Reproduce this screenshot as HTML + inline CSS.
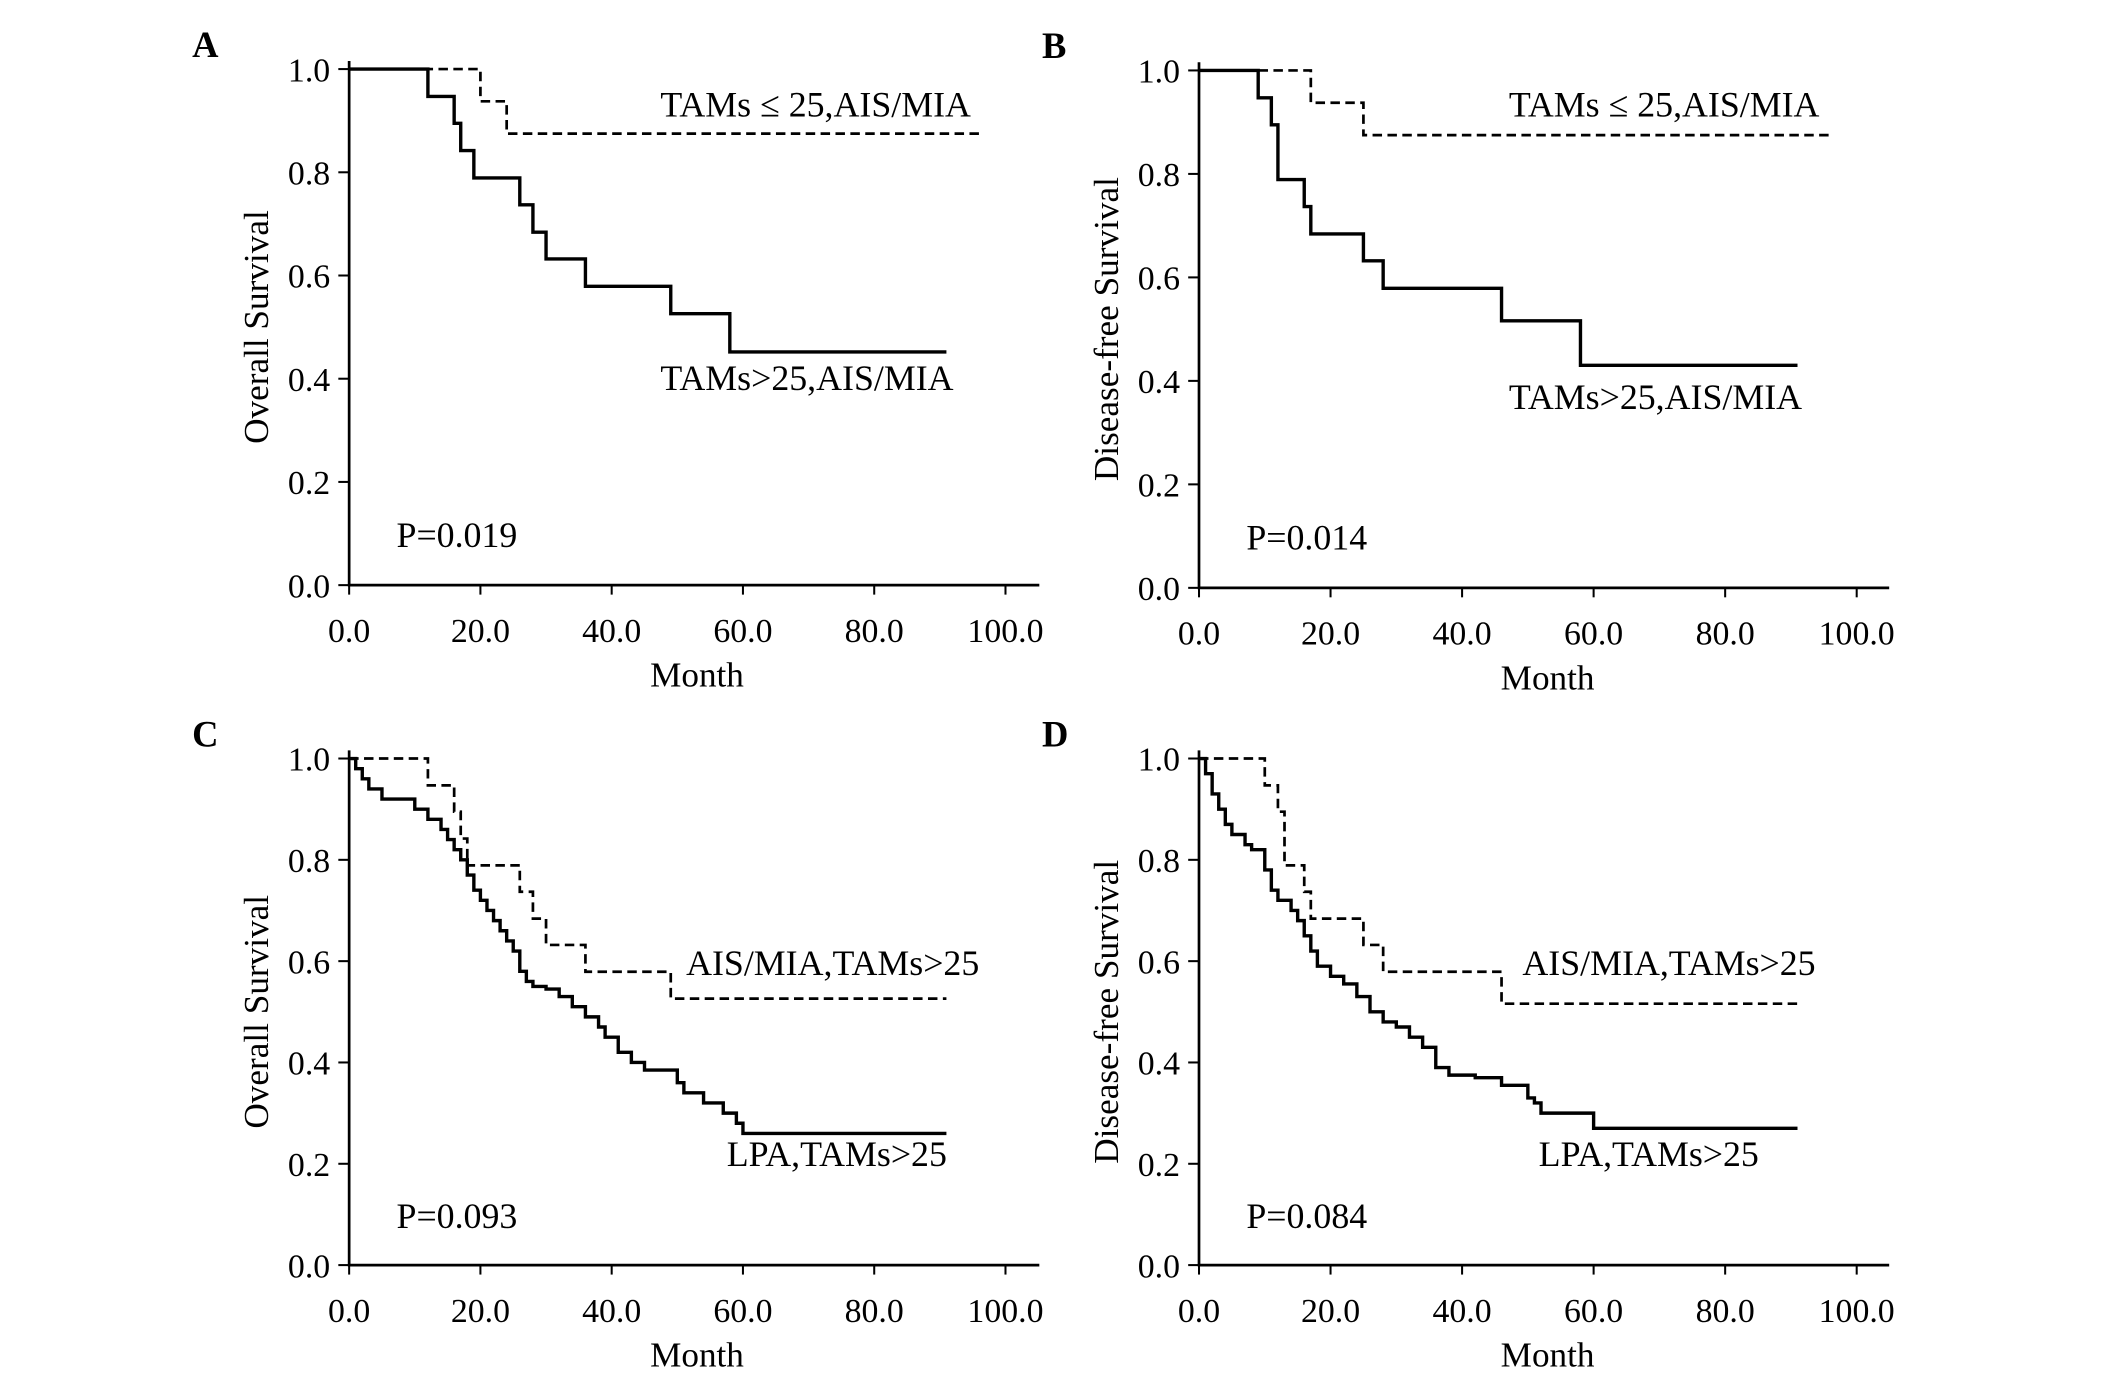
<!DOCTYPE html>
<html><head><meta charset="utf-8"><style>
html,body{margin:0;padding:0;background:#fff;}
svg{display:block;font-family:"Liberation Serif",serif;}
</style></head><body>
<svg id="chart" width="2126" height="1387" viewBox="0 0 1571 1024" preserveAspectRatio="none" xmlns="http://www.w3.org/2000/svg"></svg>
<script>
const xTicks=[0,20,40,60,80,100];
const yTicks=[0,0.2,0.4,0.6,0.8,1.0];
const aDashT=[0,20,24,96], aDashS=[1,0.9375,0.875,0.875];
const aSolT=[0,12,16,17,19,26,28,30,36,49,58,91], aSolS=[1,0.947,0.895,0.842,0.789,0.737,0.684,0.632,0.579,0.526,0.452,0.452];
const bDashT=[0,17,25,96], bDashS=[1,0.9375,0.875,0.875];
const bSolT=[0,9,11,12,16,17,25,28,46,58,91], bSolS=[1,0.947,0.895,0.789,0.737,0.684,0.632,0.579,0.516,0.43,0.43];
const cDashT=[0,12,16,17,18,19,26,28,30,36,49,91], cDashS=[1,0.947,0.895,0.842,0.789,0.789,0.737,0.684,0.632,0.579,0.526,0.526];
const cSolT=[0,1,2,3,5,10,12,14,15,16,17,18,19,20,21,22,23,24,25,26,27,28,30,32,34,36,38,39,41,43,45,50,51,54,57,59,60,91];
const cSolS=[1,0.98,0.96,0.94,0.92,0.90,0.88,0.86,0.84,0.82,0.80,0.77,0.74,0.72,0.70,0.68,0.66,0.64,0.62,0.58,0.56,0.55,0.545,0.53,0.51,0.49,0.47,0.45,0.42,0.40,0.385,0.36,0.34,0.32,0.30,0.28,0.26,0.26];
const dDashT=[0,9,10,12,13,16,17,25,28,46,91], dDashS=[1,1,0.947,0.895,0.789,0.737,0.684,0.632,0.579,0.516,0.516];
const dSolT=[0,1,2,3,4,5,7,8,10,11,12,14,15,16,17,18,20,22,24,26,28,30,32,34,36,38,42,46,50,51,52,60,91];
const dSolS=[1,0.97,0.93,0.90,0.87,0.85,0.83,0.82,0.78,0.74,0.72,0.70,0.68,0.65,0.62,0.59,0.57,0.555,0.53,0.50,0.48,0.47,0.45,0.43,0.39,0.375,0.37,0.355,0.33,0.32,0.30,0.27,0.27];
const NS="http://www.w3.org/2000/svg";
const svg=document.getElementById('chart');
function mk(tag,attrs,parent,text){const e=document.createElementNS(NS,tag);for(const k in attrs)e.setAttribute(k,attrs[k]);if(text!==undefined)e.textContent=text;(parent||svg).appendChild(e);return e;}
function panel(p){
 const g=mk('g',{});
 
 
 const sx=t=>p.x0+(p.x1-p.x0)*t/100, sy=v=>p.y0+(p.y1-p.y0)*v;
 const ax=mk('path',{d:`M${p.x0} ${sy(1)-6}V${p.y0}H${p.x0+510}`,stroke:'#000','stroke-width':2,fill:'none'},g);
 
 xTicks.forEach(t=>{mk('line',{x1:sx(t),x2:sx(t),y1:p.y0,y2:p.y0+7,stroke:'#000','stroke-width':1.5},g);
  const l=mk('text',{x:sx(t),y:p.y0+42,'text-anchor':'middle','font-size':25},g,t.toFixed(1));
  });
 yTicks.forEach(v=>{mk('line',{x1:p.x0-8,x2:p.x0,y1:sy(v),y2:sy(v),stroke:'#000','stroke-width':1.5},g);
  const l=mk('text',{x:p.x0-14,y:sy(v)+9,'text-anchor':'end','font-size':25},g,v.toFixed(1));
  });
 const xt=mk('text',{x:sx(53),y:p.y0+75,'text-anchor':'middle','font-size':26},g,'Month');
 
 const yt=mk('text',{x:0,y:0,'text-anchor':'middle','font-size':26,transform:`translate(${p.x0-60},${sy(0.5)}) rotate(-90)`},g,p.ytitle);
 
 const le=mk('text',{x:p.x0-116,y:sy(1)-9,'font-size':27,'font-weight':'bold'},g,p.letter);
 
 function curve(T,S,dash,name){let d=`M${sx(T[0])} ${sy(S[0])}`;for(let i=1;i<T.length;i++){d+=`H${sx(T[i])}V${sy(S[i])}`;}
  const c=mk('path',{d:d,stroke:'#000','stroke-width':dash?2:2.5,fill:'none','stroke-dasharray':dash?'7,4':'none'},g);
  }
 curve(p.dT,p.dS,true,'dashed-curve');curve(p.sT,p.sS,false,'solid-curve');
 p.labels.forEach(L=>{const t=mk('text',{x:L[0],y:L[1],'font-size':26.5},g,L[2]);
  });
 const pv=mk('text',{x:p.x0+35,y:sy(0.1)+10,'font-size':26.5},g,p.pval);
 
}
panel({letter:'A',x0:258,x1:743,y0:432,y1:51,ytitle:'Overall Survival',pval:'P=0.019',dT:aDashT,dS:aDashS,sT:aSolT,sS:aSolS,
 labels:[[488,86,'TAMs ≤ 25,AIS/MIA'],[488,288,'TAMs>25,AIS/MIA']]});
panel({letter:'B',x0:886,x1:1372,y0:434,y1:52,ytitle:'Disease-free Survival',pval:'P=0.014',dT:bDashT,dS:bDashS,sT:bSolT,sS:bSolS,
 labels:[[1115,86,'TAMs ≤ 25,AIS/MIA'],[1115,302,'TAMs>25,AIS/MIA']]});
panel({letter:'C',x0:258,x1:743,y0:934,y1:560,ytitle:'Overall Survival',pval:'P=0.093',dT:cDashT,dS:cDashS,sT:cSolT,sS:cSolS,
 labels:[[507,720,'AIS/MIA,TAMs>25'],[537,861,'LPA,TAMs>25']]});
panel({letter:'D',x0:886,x1:1372,y0:934,y1:560,ytitle:'Disease-free Survival',pval:'P=0.084',dT:dDashT,dS:dDashS,sT:dSolT,sS:dSolS,
 labels:[[1125,720,'AIS/MIA,TAMs>25'],[1137,861,'LPA,TAMs>25']]});
</script>
</body></html>
